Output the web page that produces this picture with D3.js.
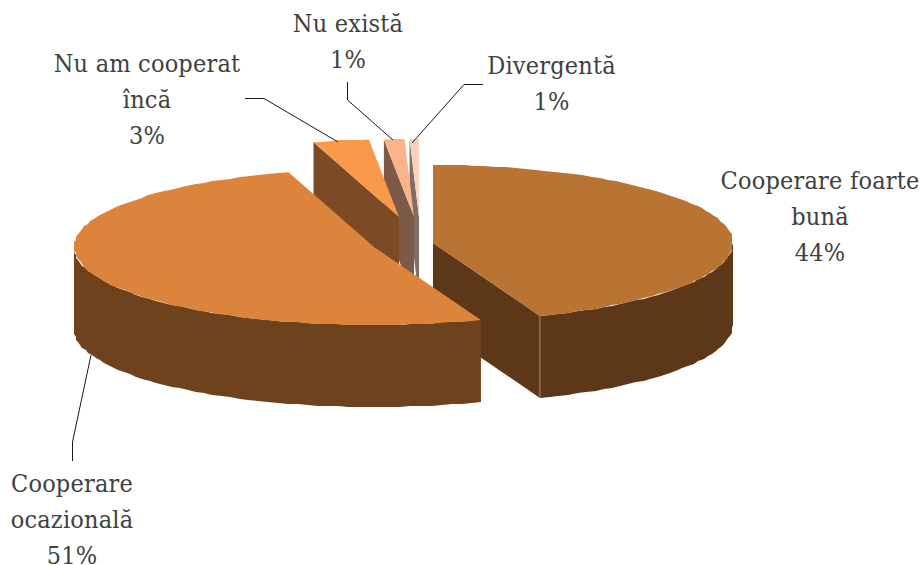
<!DOCTYPE html>
<html>
<head>
<meta charset="utf-8">
<script src="https://cdn.jsdelivr.net/npm/d3@7"></script>
<style>
  html, body { margin: 0; padding: 0; background: #fff; overflow: hidden; }
  text { font-family: "DejaVu Serif Condensed", "DejaVu Serif", serif; font-stretch: condensed; font-size: 25px; letter-spacing: 0.2px; fill: #404040; text-anchor: middle; }
</style>
</head>
<body>
<div id="chart"></div>
<script>
const categories = ['Cooperare foarte bună', 'Cooperare ocazională', 'Nu am cooperat încă', 'Nu există', 'Divergentă'];
const values = [44.2, 51.2, 3.0, 1.1, 0.5];
const percentLabels = ['44%', '51%', '3%', '1%', '1%'];

const topColors = ['#b97333', '#dc843c', '#f89a4a', '#fab48c', '#fcd0ba'];
const wallColors = ['#5c3818', '#6f421e', '#7c4b25', '#7c5a47', '#7e6e66'];

// where each exploded slice sits, and the order they get painted
const centers = [[433, 243], [374, 247], [399, 217], [414, 217], [419, 217]];
const paintOrder = [4, 3, 2, 0, 1];
const rx = 300, ry = 78, depth = 82;

const labelLines = [
    { lines: ['Cooperare foarte', 'bună'], x: 820, y: 189 },
    { lines: ['Cooperare', 'ocazională'], x: 72, y: 491.5 },
    { lines: ['Nu am cooperat', 'încă'], x: 147, y: 72 },
    { lines: ['Nu există'], x: 348, y: 32 },
    { lines: ['Divergentă'], x: 551.5, y: 73.5 }
];
const leaders = [
    null,
    [[91, 355], [72.5, 442], [72.5, 461]],
    [[245, 98.5], [264, 98.5], [338, 142]],
    [[347.5, 82], [347.5, 100], [393, 140]],
    [[483, 84.5], [464, 84.5], [412, 143]]
];

const svg = d3.select('#chart').append('svg')
    .attr('width', 921)
    .attr('height', 565);

const pie = d3.pie().sort(null).value(d => d);
const slices = pie(values);
const line = d3.line();

function rim(i, a) {
    return [centers[i][0] + rx * Math.sin(a), centers[i][1] - ry * Math.cos(a)];
}

// coarse sampling and snapping give the rim the same slightly rough edge as the original
function rimPoints(i, a0, a1) {
    const n = Math.max(2, Math.ceil(Math.abs(a1 - a0) / 0.035));
    return d3.range(n + 1).map(k => {
        const p = rim(i, a0 + (a1 - a0) * k / n);
        if (k === 0 || k === n) return p;
        return [Math.round(p[0] / 2) * 2, Math.round(p[1])];
    });
}

function drop(p) {
    return [p[0], p[1] + depth];
}

paintOrder.forEach(i => {
    const s = slices[i];
    const c = centers[i];
    const g = svg.append('g');

    // radial walls that face the viewer
    if (s.startAngle > Math.PI) {
        const p = rim(i, s.startAngle);
        g.append('path').attr('d', line([c, p, drop(p), drop(c)]) + 'Z').attr('fill', wallColors[i]);
    }
    if (s.endAngle < Math.PI) {
        const p = rim(i, s.endAngle);
        g.append('path').attr('d', line([c, p, drop(p), drop(c)]) + 'Z').attr('fill', wallColors[i]);
    }

    // curved outer wall, only the front half
    const a0 = Math.max(s.startAngle, Math.PI / 2);
    const a1 = Math.min(s.endAngle, Math.PI * 1.5);
    if (a1 > a0) {
        const edge = rimPoints(i, a0, a1);
        g.append('path').attr('d', line(edge.concat(edge.map(drop).reverse())) + 'Z').attr('fill', wallColors[i]);
    }

    g.append('path')
        .attr('d', line([c].concat(rimPoints(i, s.startAngle, s.endAngle))) + 'Z')
        .attr('fill', topColors[i]);
});

// seam on the big slice
const seam = rim(0, slices[0].endAngle);
svg.append('path')
    .attr('d', line([seam, drop(seam)]))
    .attr('stroke', '#a08a76')
    .attr('fill', 'none');

leaders.forEach(l => {
    if (!l) return;
    svg.append('path')
        .attr('d', line(l))
        .attr('fill', 'none')
        .attr('stroke', '#1a1a1a')
        .attr('stroke-width', 1);
});

labelLines.forEach((l, i) => {
    const t = svg.append('text');
    l.lines.concat(percentLabels[i]).forEach((str, k) => {
        t.append('tspan').attr('x', l.x).attr('y', l.y + k * 36).text(str);
    });
});
</script>
</body>
</html>
